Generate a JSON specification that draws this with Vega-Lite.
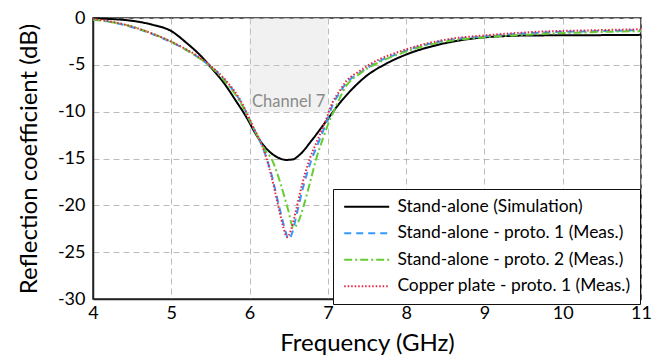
{
  "$schema": "https://vega.github.io/schema/vega-lite/v6.json",
  "autosize": {"type": "none"},
  "padding": {"left": 93, "top": 18, "right": 20, "bottom": 63},
  "width": 548,
  "height": 281,
  "config": {
    "font": "Lato",
    "view": {"stroke": "#222", "strokeWidth": 1.5},
    "axis": {
      "labelFont": "Lato", "titleFont": "Lato",
      "labelFontSize": 18, "titleFontSize": 24, "titleFontWeight": "normal",
      "labelColor": "#000", "titleColor": "#000",
      "gridColor": "#bbbbbb", "gridDash": [6, 4], "gridWidth": 1,
      "domainColor": "#222", "domainWidth": 1.5,
      "ticks": false, "labelFlush": false,
      "labelExpr": "toString(datum.value)"
    },
    "legend": {"labelFont": "Lato", "labelFontSize": 17.4, "labelColor": "#000", "labelLimit": 0}
  },
  "datasets": {
    "band": [{"f0": 6, "f1": 7, "y0": 0, "y1": -10, "label": "Channel 7", "fm": 6.5, "ym": -9}],
    "curves": [
      {"series": "Stand-alone (Simulation)", "f": 4.0, "db": -0.05},
      {"series": "Stand-alone (Simulation)", "f": 4.25, "db": -0.12},
      {"series": "Stand-alone (Simulation)", "f": 4.5, "db": -0.3},
      {"series": "Stand-alone (Simulation)", "f": 4.75, "db": -0.7},
      {"series": "Stand-alone (Simulation)", "f": 5.0, "db": -1.4},
      {"series": "Stand-alone (Simulation)", "f": 5.2, "db": -2.7},
      {"series": "Stand-alone (Simulation)", "f": 5.36, "db": -3.9},
      {"series": "Stand-alone (Simulation)", "f": 5.53, "db": -5.5},
      {"series": "Stand-alone (Simulation)", "f": 5.66, "db": -6.8},
      {"series": "Stand-alone (Simulation)", "f": 5.83, "db": -8.9},
      {"series": "Stand-alone (Simulation)", "f": 5.96, "db": -10.6},
      {"series": "Stand-alone (Simulation)", "f": 6.08, "db": -12.4},
      {"series": "Stand-alone (Simulation)", "f": 6.21, "db": -13.9},
      {"series": "Stand-alone (Simulation)", "f": 6.34, "db": -14.8},
      {"series": "Stand-alone (Simulation)", "f": 6.47, "db": -15.15},
      {"series": "Stand-alone (Simulation)", "f": 6.55, "db": -15.1},
      {"series": "Stand-alone (Simulation)", "f": 6.64, "db": -14.6},
      {"series": "Stand-alone (Simulation)", "f": 6.8, "db": -13.0},
      {"series": "Stand-alone (Simulation)", "f": 6.98, "db": -11.0},
      {"series": "Stand-alone (Simulation)", "f": 7.15, "db": -9.1},
      {"series": "Stand-alone (Simulation)", "f": 7.32, "db": -7.5},
      {"series": "Stand-alone (Simulation)", "f": 7.49, "db": -6.2},
      {"series": "Stand-alone (Simulation)", "f": 7.74, "db": -4.9},
      {"series": "Stand-alone (Simulation)", "f": 8.0, "db": -3.9},
      {"series": "Stand-alone (Simulation)", "f": 8.34, "db": -3.0},
      {"series": "Stand-alone (Simulation)", "f": 8.68, "db": -2.4},
      {"series": "Stand-alone (Simulation)", "f": 9.02, "db": -2.05},
      {"series": "Stand-alone (Simulation)", "f": 9.3, "db": -1.92},
      {"series": "Stand-alone (Simulation)", "f": 9.61, "db": -1.86},
      {"series": "Stand-alone (Simulation)", "f": 10.0, "db": -1.85},
      {"series": "Stand-alone (Simulation)", "f": 10.46, "db": -1.83},
      {"series": "Stand-alone (Simulation)", "f": 11.0, "db": -1.8},

      {"series": "Stand-alone - proto. 1 (Meas.)", "f": 4.0, "db": -0.15},
      {"series": "Stand-alone - proto. 1 (Meas.)", "f": 4.21, "db": -0.4},
      {"series": "Stand-alone - proto. 1 (Meas.)", "f": 4.47, "db": -0.9},
      {"series": "Stand-alone - proto. 1 (Meas.)", "f": 4.72, "db": -1.6},
      {"series": "Stand-alone - proto. 1 (Meas.)", "f": 4.98, "db": -2.5},
      {"series": "Stand-alone - proto. 1 (Meas.)", "f": 5.19, "db": -3.4},
      {"series": "Stand-alone - proto. 1 (Meas.)", "f": 5.36, "db": -4.3},
      {"series": "Stand-alone - proto. 1 (Meas.)", "f": 5.53, "db": -5.35},
      {"series": "Stand-alone - proto. 1 (Meas.)", "f": 5.7, "db": -6.8},
      {"series": "Stand-alone - proto. 1 (Meas.)", "f": 5.87, "db": -8.7},
      {"series": "Stand-alone - proto. 1 (Meas.)", "f": 6.04, "db": -11.6},
      {"series": "Stand-alone - proto. 1 (Meas.)", "f": 6.19, "db": -14.3},
      {"series": "Stand-alone - proto. 1 (Meas.)", "f": 6.27, "db": -16.4},
      {"series": "Stand-alone - proto. 1 (Meas.)", "f": 6.38, "db": -20.2},
      {"series": "Stand-alone - proto. 1 (Meas.)", "f": 6.44, "db": -22.2},
      {"series": "Stand-alone - proto. 1 (Meas.)", "f": 6.5, "db": -23.6},
      {"series": "Stand-alone - proto. 1 (Meas.)", "f": 6.55, "db": -22.8},
      {"series": "Stand-alone - proto. 1 (Meas.)", "f": 6.59, "db": -21.4},
      {"series": "Stand-alone - proto. 1 (Meas.)", "f": 6.68, "db": -18.2},
      {"series": "Stand-alone - proto. 1 (Meas.)", "f": 6.78, "db": -15.4},
      {"series": "Stand-alone - proto. 1 (Meas.)", "f": 6.88, "db": -13.3},
      {"series": "Stand-alone - proto. 1 (Meas.)", "f": 6.98, "db": -11.2},
      {"series": "Stand-alone - proto. 1 (Meas.)", "f": 7.06, "db": -9.3},
      {"series": "Stand-alone - proto. 1 (Meas.)", "f": 7.15, "db": -8.0},
      {"series": "Stand-alone - proto. 1 (Meas.)", "f": 7.23, "db": -7.0},
      {"series": "Stand-alone - proto. 1 (Meas.)", "f": 7.4, "db": -5.9},
      {"series": "Stand-alone - proto. 1 (Meas.)", "f": 7.66, "db": -4.6},
      {"series": "Stand-alone - proto. 1 (Meas.)", "f": 7.91, "db": -3.75},
      {"series": "Stand-alone - proto. 1 (Meas.)", "f": 8.25, "db": -2.85},
      {"series": "Stand-alone - proto. 1 (Meas.)", "f": 8.59, "db": -2.3},
      {"series": "Stand-alone - proto. 1 (Meas.)", "f": 9.02, "db": -1.96},
      {"series": "Stand-alone - proto. 1 (Meas.)", "f": 9.61, "db": -1.6},
      {"series": "Stand-alone - proto. 1 (Meas.)", "f": 10.46, "db": -1.4},
      {"series": "Stand-alone - proto. 1 (Meas.)", "f": 11.0, "db": -1.3},

      {"series": "Stand-alone - proto. 2 (Meas.)", "f": 4.0, "db": -0.15},
      {"series": "Stand-alone - proto. 2 (Meas.)", "f": 4.21, "db": -0.4},
      {"series": "Stand-alone - proto. 2 (Meas.)", "f": 4.47, "db": -0.85},
      {"series": "Stand-alone - proto. 2 (Meas.)", "f": 4.72, "db": -1.55},
      {"series": "Stand-alone - proto. 2 (Meas.)", "f": 4.98, "db": -2.45},
      {"series": "Stand-alone - proto. 2 (Meas.)", "f": 5.19, "db": -3.4},
      {"series": "Stand-alone - proto. 2 (Meas.)", "f": 5.36, "db": -4.3},
      {"series": "Stand-alone - proto. 2 (Meas.)", "f": 5.53, "db": -5.4},
      {"series": "Stand-alone - proto. 2 (Meas.)", "f": 5.7, "db": -6.9},
      {"series": "Stand-alone - proto. 2 (Meas.)", "f": 5.87, "db": -8.8},
      {"series": "Stand-alone - proto. 2 (Meas.)", "f": 6.04, "db": -11.6},
      {"series": "Stand-alone - proto. 2 (Meas.)", "f": 6.19, "db": -14.0},
      {"series": "Stand-alone - proto. 2 (Meas.)", "f": 6.29, "db": -15.2},
      {"series": "Stand-alone - proto. 2 (Meas.)", "f": 6.4, "db": -17.8},
      {"series": "Stand-alone - proto. 2 (Meas.)", "f": 6.49, "db": -20.4},
      {"series": "Stand-alone - proto. 2 (Meas.)", "f": 6.56, "db": -22.4},
      {"series": "Stand-alone - proto. 2 (Meas.)", "f": 6.62, "db": -21.8},
      {"series": "Stand-alone - proto. 2 (Meas.)", "f": 6.7, "db": -19.8},
      {"series": "Stand-alone - proto. 2 (Meas.)", "f": 6.78, "db": -17.3},
      {"series": "Stand-alone - proto. 2 (Meas.)", "f": 6.86, "db": -14.8},
      {"series": "Stand-alone - proto. 2 (Meas.)", "f": 6.94, "db": -12.8},
      {"series": "Stand-alone - proto. 2 (Meas.)", "f": 7.02, "db": -11.0},
      {"series": "Stand-alone - proto. 2 (Meas.)", "f": 7.1, "db": -9.5},
      {"series": "Stand-alone - proto. 2 (Meas.)", "f": 7.23, "db": -7.3},
      {"series": "Stand-alone - proto. 2 (Meas.)", "f": 7.4, "db": -6.0},
      {"series": "Stand-alone - proto. 2 (Meas.)", "f": 7.66, "db": -4.7},
      {"series": "Stand-alone - proto. 2 (Meas.)", "f": 7.91, "db": -3.85},
      {"series": "Stand-alone - proto. 2 (Meas.)", "f": 8.25, "db": -2.95},
      {"series": "Stand-alone - proto. 2 (Meas.)", "f": 8.59, "db": -2.4},
      {"series": "Stand-alone - proto. 2 (Meas.)", "f": 9.02, "db": -2.05},
      {"series": "Stand-alone - proto. 2 (Meas.)", "f": 9.61, "db": -1.75},
      {"series": "Stand-alone - proto. 2 (Meas.)", "f": 10.46, "db": -1.5},
      {"series": "Stand-alone - proto. 2 (Meas.)", "f": 11.0, "db": -1.4},

      {"series": "Copper plate - proto. 1 (Meas.)", "f": 4.0, "db": -0.1},
      {"series": "Copper plate - proto. 1 (Meas.)", "f": 4.21, "db": -0.35},
      {"series": "Copper plate - proto. 1 (Meas.)", "f": 4.47, "db": -0.85},
      {"series": "Copper plate - proto. 1 (Meas.)", "f": 4.72, "db": -1.55},
      {"series": "Copper plate - proto. 1 (Meas.)", "f": 4.98, "db": -2.45},
      {"series": "Copper plate - proto. 1 (Meas.)", "f": 5.19, "db": -3.35},
      {"series": "Copper plate - proto. 1 (Meas.)", "f": 5.36, "db": -4.2},
      {"series": "Copper plate - proto. 1 (Meas.)", "f": 5.53, "db": -5.3},
      {"series": "Copper plate - proto. 1 (Meas.)", "f": 5.7, "db": -6.7},
      {"series": "Copper plate - proto. 1 (Meas.)", "f": 5.87, "db": -8.6},
      {"series": "Copper plate - proto. 1 (Meas.)", "f": 6.04, "db": -11.5},
      {"series": "Copper plate - proto. 1 (Meas.)", "f": 6.19, "db": -14.3},
      {"series": "Copper plate - proto. 1 (Meas.)", "f": 6.27, "db": -16.6},
      {"series": "Copper plate - proto. 1 (Meas.)", "f": 6.37, "db": -20.2},
      {"series": "Copper plate - proto. 1 (Meas.)", "f": 6.43, "db": -22.3},
      {"series": "Copper plate - proto. 1 (Meas.)", "f": 6.48, "db": -23.4},
      {"series": "Copper plate - proto. 1 (Meas.)", "f": 6.53, "db": -22.6},
      {"series": "Copper plate - proto. 1 (Meas.)", "f": 6.58, "db": -21.0},
      {"series": "Copper plate - proto. 1 (Meas.)", "f": 6.67, "db": -17.8},
      {"series": "Copper plate - proto. 1 (Meas.)", "f": 6.77, "db": -15.0},
      {"series": "Copper plate - proto. 1 (Meas.)", "f": 6.87, "db": -13.0},
      {"series": "Copper plate - proto. 1 (Meas.)", "f": 6.97, "db": -11.0},
      {"series": "Copper plate - proto. 1 (Meas.)", "f": 7.06, "db": -9.0},
      {"series": "Copper plate - proto. 1 (Meas.)", "f": 7.15, "db": -7.8},
      {"series": "Copper plate - proto. 1 (Meas.)", "f": 7.23, "db": -6.8},
      {"series": "Copper plate - proto. 1 (Meas.)", "f": 7.4, "db": -5.7},
      {"series": "Copper plate - proto. 1 (Meas.)", "f": 7.66, "db": -4.4},
      {"series": "Copper plate - proto. 1 (Meas.)", "f": 7.91, "db": -3.6},
      {"series": "Copper plate - proto. 1 (Meas.)", "f": 8.25, "db": -2.75},
      {"series": "Copper plate - proto. 1 (Meas.)", "f": 8.59, "db": -2.2},
      {"series": "Copper plate - proto. 1 (Meas.)", "f": 9.02, "db": -1.85},
      {"series": "Copper plate - proto. 1 (Meas.)", "f": 9.61, "db": -1.5},
      {"series": "Copper plate - proto. 1 (Meas.)", "f": 10.46, "db": -1.3},
      {"series": "Copper plate - proto. 1 (Meas.)", "f": 11.0, "db": -1.2}
    ]
  },
  "layer": [
    {
      "data": {"name": "band"},
      "mark": {"type": "rect", "fill": "#d0d0d0", "opacity": 0.3},
      "encoding": {
        "x": {"field": "f0", "type": "quantitative", "scale": {"domain": [4, 11], "nice": false},
              "axis": {"title": "Frequency (GHz)", "values": [4, 5, 6, 7, 8, 9, 10, 11], "labelPadding": 5, "titlePadding": 9}},
        "x2": {"field": "f1"},
        "y": {"field": "y0", "type": "quantitative", "scale": {"domain": [-30, 0], "nice": false},
              "axis": {"title": "Reflection coefficient (dB)", "values": [-30, -25, -20, -15, -10, -5, 0], "labelPadding": 8, "titlePadding": 16}},
        "y2": {"field": "y1"}
      }
    },
    {
      "data": {"name": "band"},
      "mark": {"type": "text", "font": "Lato", "fontSize": 16.5, "color": "#8a8a8a"},
      "encoding": {
        "x": {"field": "fm", "type": "quantitative"},
        "y": {"field": "ym", "type": "quantitative"},
        "text": {"field": "label"}
      }
    },
    {
      "data": {"name": "curves"},
      "mark": {"type": "line", "strokeWidth": 2, "interpolate": "monotone"},
      "encoding": {
        "x": {"field": "f", "type": "quantitative"},
        "y": {"field": "db", "type": "quantitative"},
        "color": {
          "field": "series", "type": "nominal",
          "scale": {
            "domain": ["Stand-alone (Simulation)", "Stand-alone - proto. 1 (Meas.)", "Stand-alone - proto. 2 (Meas.)", "Copper plate - proto. 1 (Meas.)"],
            "range": ["#000000", "#3399ff", "#66cc33", "#e8253f"]
          },
          "legend": {
            "title": null, "orient": "none", "legendX": 240, "legendY": 171,
            "symbolType": "M-3,0H3", "symbolSize": 225, "symbolStrokeWidth": 2,
            "symbolOffset": 16, "labelOffset": 22,
            "rowPadding": 7.5, "padding": 9, "fillColor": "#ffffff", "strokeColor": "#111111"
          }
        },
        "strokeDash": {
          "field": "series", "type": "nominal",
          "scale": {
            "domain": ["Stand-alone (Simulation)", "Stand-alone - proto. 1 (Meas.)", "Stand-alone - proto. 2 (Meas.)", "Copper plate - proto. 1 (Meas.)"],
            "range": [[1, 0], [7, 5], [8, 3, 2, 3], [1.5, 2]]
          },
          "legend": {
            "title": null, "orient": "none", "legendX": 240, "legendY": 171,
            "symbolType": "M-3,0H3", "symbolSize": 225, "symbolStrokeWidth": 2,
            "symbolOffset": 16, "labelOffset": 22,
            "rowPadding": 7.5, "padding": 9, "fillColor": "#ffffff", "strokeColor": "#111111"
          }
        },
        "order": {"field": "f", "type": "quantitative"}
      }
    }
  ]
}
